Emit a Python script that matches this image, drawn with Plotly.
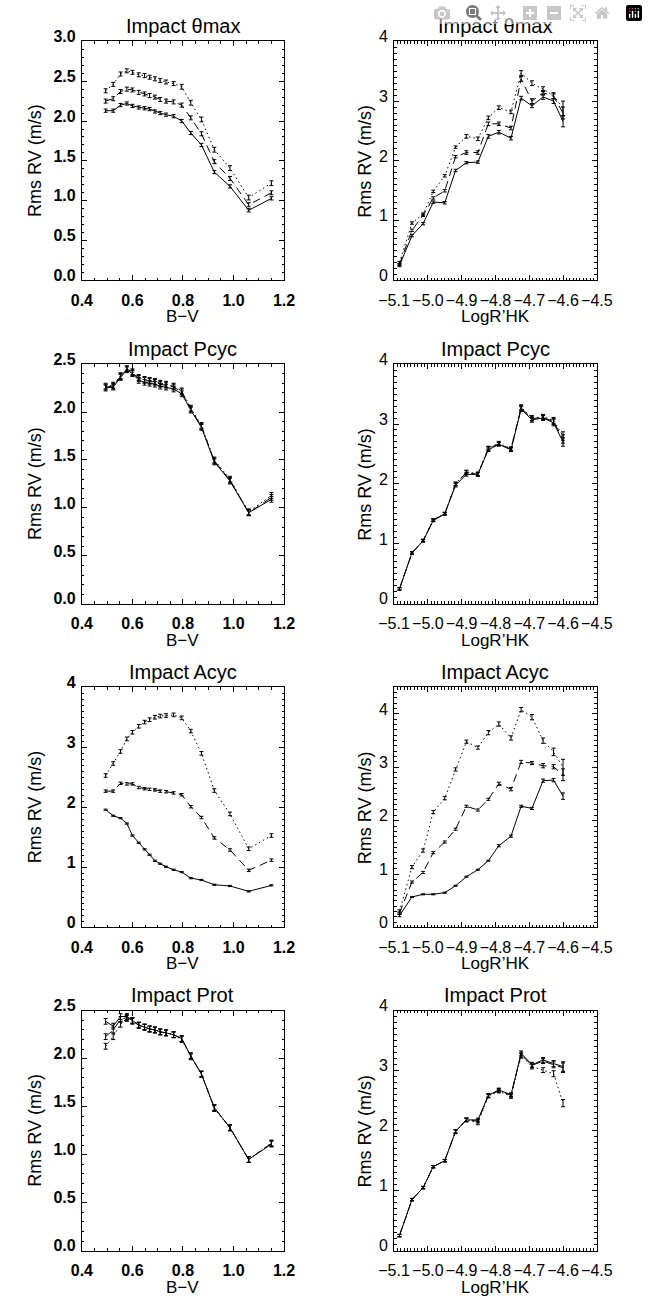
import plotly.graph_objects as go

W, H = 648, 1300

# ---------------- data ----------------
BV = [0.494, 0.524, 0.553, 0.578, 0.600, 0.625, 0.648, 0.668, 0.689, 0.710,
      0.733, 0.763, 0.795, 0.831, 0.873, 0.924, 0.986, 1.060, 1.150]
LOGRHK = [-5.084, -5.047, -5.014, -4.984, -4.950, -4.918, -4.886, -4.852,
          -4.821, -4.790, -4.754, -4.724, -4.692, -4.659, -4.628, -4.600]

BV_TICKS = [0.4, 0.6, 0.8, 1.0, 1.2]
LOGRHK_TICKS = [-5.1, -5.0, -4.9, -4.8, -4.7, -4.6, -4.5]

# Impact theta max  (B-V)
THMAX_BV_A = [2.13, 2.13, 2.20, 2.22, 2.19, 2.17, 2.16, 2.15, 2.12, 2.10,
              2.08, 2.06, 2.00, 1.85, 1.70, 1.36, 1.18, 0.88, 1.03]
THMAX_BV_B = [2.25, 2.28, 2.37, 2.40, 2.39, 2.36, 2.34, 2.32, 2.30, 2.27,
              2.25, 2.24, 2.20, 2.04, 1.84, 1.49, 1.28, 0.95, 1.10]
THMAX_BV_C = [2.38, 2.46, 2.59, 2.63, 2.61, 2.58, 2.57, 2.55, 2.53, 2.51,
              2.49, 2.47, 2.43, 2.23, 2.02, 1.64, 1.41, 1.04, 1.22]
THMAX_BV_ERR_A = [0.02, 0.02, 0.02, 0.02, 0.02, 0.02, 0.02, 0.02, 0.02, 0.02,
                  0.02, 0.02, 0.02, 0.02, 0.02, 0.02, 0.02, 0.02, 0.02]
THMAX_BV_ERR_B = [0.025, 0.025, 0.025, 0.025, 0.025, 0.025, 0.025, 0.025, 0.025, 0.025,
                  0.025, 0.025, 0.025, 0.025, 0.025, 0.025, 0.025, 0.025, 0.025]
THMAX_BV_ERR_C = [0.025, 0.025, 0.025, 0.025, 0.025, 0.025, 0.025, 0.025, 0.025, 0.025,
                  0.025, 0.025, 0.03, 0.03, 0.03, 0.03, 0.03, 0.03, 0.03]

# Impact theta max  (LogR'HK)
THMAX_RHK_A = [0.25, 0.75, 0.95, 1.31, 1.30, 1.84, 1.97, 1.98, 2.41, 2.48,
               2.38, 3.05, 2.92, 3.07, 3.00, 2.66]
THMAX_RHK_B = [0.27, 0.84, 1.09, 1.38, 1.50, 2.07, 2.14, 2.14, 2.62, 2.62,
               2.55, 3.37, 3.00, 3.14, 3.08, 2.80]
THMAX_RHK_C = [0.30, 0.96, 1.11, 1.49, 1.75, 2.23, 2.41, 2.37, 2.72, 2.89,
               2.82, 3.47, 3.30, 3.20, 3.09, 2.88]
THMAX_RHK_ERR_A = [0.02, 0.02, 0.02, 0.02, 0.02, 0.02, 0.02, 0.02, 0.03, 0.03,
                   0.03, 0.03, 0.03, 0.04, 0.04, 0.09]
THMAX_RHK_ERR_B = [0.02, 0.02, 0.02, 0.02, 0.02, 0.02, 0.03, 0.03, 0.03, 0.03,
                   0.03, 0.04, 0.04, 0.04, 0.04, 0.10]
THMAX_RHK_ERR_C = [0.02, 0.02, 0.02, 0.02, 0.02, 0.02, 0.03, 0.03, 0.03, 0.03,
                   0.03, 0.04, 0.04, 0.04, 0.05, 0.12]

# Impact Pcyc (B-V)
PCYC_BV_A = [2.25, 2.26, 2.36, 2.44, 2.40, 2.33, 2.31, 2.30, 2.29, 2.27,
             2.26, 2.24, 2.19, 2.02, 1.84, 1.48, 1.28, 0.95, 1.09]
PCYC_BV_B = [2.26, 2.27, 2.37, 2.45, 2.41, 2.35, 2.33, 2.32, 2.31, 2.29,
             2.28, 2.26, 2.21, 2.03, 1.85, 1.49, 1.29, 0.95, 1.11]
PCYC_BV_C = [2.27, 2.28, 2.38, 2.45, 2.42, 2.36, 2.34, 2.33, 2.32, 2.30,
             2.29, 2.27, 2.22, 2.04, 1.86, 1.50, 1.30, 0.96, 1.13]
PCYC_BV_ERR = [0.03, 0.03, 0.03, 0.03, 0.03, 0.03, 0.03, 0.03, 0.03, 0.03,
               0.03, 0.03, 0.03, 0.03, 0.03, 0.03, 0.03, 0.03, 0.03]

# Impact Pcyc (LogR'HK)
PCYC_RHK_A = [0.25, 0.85, 1.05, 1.39, 1.50, 1.98, 2.16, 2.16, 2.57, 2.66,
              2.57, 3.25, 3.07, 3.10, 3.02, 2.70]
PCYC_RHK_B = [0.25, 0.85, 1.05, 1.40, 1.50, 2.00, 2.19, 2.16, 2.59, 2.67,
              2.58, 3.27, 3.09, 3.11, 3.04, 2.75]
PCYC_RHK_C = [0.25, 0.85, 1.06, 1.40, 1.51, 2.00, 2.20, 2.17, 2.60, 2.68,
              2.59, 3.28, 3.10, 3.12, 3.06, 2.80]
PCYC_RHK_ERR = [0.02, 0.02, 0.02, 0.02, 0.02, 0.03, 0.03, 0.03, 0.03, 0.03,
                0.03, 0.04, 0.04, 0.04, 0.05, 0.07]

# Impact Acyc (B-V)
ACYC_BV_A = [1.96, 1.86, 1.82, 1.73, 1.53, 1.41, 1.30, 1.21, 1.11, 1.06,
             1.01, 0.96, 0.92, 0.82, 0.79, 0.71, 0.69, 0.60, 0.70]
ACYC_BV_B = [2.27, 2.27, 2.40, 2.39, 2.39, 2.33, 2.31, 2.30, 2.29, 2.27,
             2.26, 2.24, 2.21, 2.01, 1.83, 1.49, 1.29, 0.95, 1.12]
ACYC_BV_C = [2.53, 2.73, 2.93, 3.14, 3.25, 3.35, 3.42, 3.46, 3.50, 3.52,
             3.53, 3.54, 3.49, 3.27, 2.90, 2.28, 1.89, 1.31, 1.53]
ACYC_BV_ERR_A = [0.01, 0.01, 0.01, 0.01, 0.01, 0.01, 0.01, 0.01, 0.01, 0.01,
                 0.01, 0.01, 0.01, 0.01, 0.01, 0.01, 0.01, 0.01, 0.01]
ACYC_BV_ERR_B = [0.02, 0.02, 0.02, 0.02, 0.02, 0.02, 0.02, 0.02, 0.02, 0.02,
                 0.02, 0.02, 0.02, 0.02, 0.02, 0.02, 0.02, 0.02, 0.02]
ACYC_BV_ERR_C = [0.03, 0.03, 0.03, 0.03, 0.03, 0.03, 0.03, 0.03, 0.03, 0.03,
                 0.03, 0.03, 0.03, 0.03, 0.03, 0.03, 0.03, 0.03, 0.03]

# Impact Acyc (LogR'HK)
ACYC_RHK_A = [0.22, 0.57, 0.62, 0.62, 0.65, 0.78, 0.95, 1.08, 1.25, 1.53,
              1.71, 2.27, 2.23, 2.75, 2.76, 2.46]
ACYC_RHK_B = [0.27, 0.85, 1.03, 1.40, 1.60, 1.84, 2.27, 2.20, 2.40, 2.69,
              2.59, 3.10, 3.08, 3.03, 3.01, 2.86]
ACYC_RHK_C = [0.30, 1.13, 1.44, 2.16, 2.42, 2.96, 3.48, 3.37, 3.65, 3.81,
              3.55, 4.08, 3.94, 3.50, 3.29, 3.00]
ACYC_RHK_ERR_A = [0.02, 0.01, 0.01, 0.01, 0.01, 0.01, 0.01, 0.01, 0.01, 0.02,
                  0.02, 0.02, 0.02, 0.03, 0.03, 0.06]
ACYC_RHK_ERR_B = [0.02, 0.02, 0.02, 0.02, 0.02, 0.02, 0.02, 0.02, 0.02, 0.03,
                  0.03, 0.03, 0.03, 0.04, 0.04, 0.11]
ACYC_RHK_ERR_C = [0.03, 0.03, 0.03, 0.03, 0.03, 0.03, 0.03, 0.03, 0.04, 0.04,
                  0.04, 0.04, 0.05, 0.05, 0.07, 0.15]

# Impact Prot (B-V)
PROT_BV_A = [2.39, 2.34, 2.44, 2.44, 2.40, 2.35, 2.33, 2.31, 2.30, 2.28,
             2.27, 2.25, 2.21, 2.03, 1.84, 1.49, 1.28, 0.95, 1.11]
PROT_BV_B = [2.23, 2.30, 2.41, 2.43, 2.40, 2.35, 2.33, 2.31, 2.30, 2.28,
             2.27, 2.25, 2.21, 2.03, 1.84, 1.49, 1.28, 0.95, 1.12]
PROT_BV_C = [2.13, 2.23, 2.36, 2.42, 2.39, 2.35, 2.33, 2.31, 2.30, 2.28,
             2.27, 2.25, 2.20, 2.02, 1.84, 1.48, 1.28, 0.95, 1.12]
PROT_BV_ERR = [0.03, 0.03, 0.03, 0.03, 0.03, 0.03, 0.03, 0.03, 0.03, 0.03,
               0.03, 0.03, 0.03, 0.03, 0.03, 0.03, 0.03, 0.03, 0.03]

# Impact Prot (LogR'HK)
PROT_RHK_A = [0.25, 0.85, 1.05, 1.40, 1.50, 1.99, 2.18, 2.18, 2.59, 2.68,
              2.60, 3.29, 3.10, 3.18, 3.12, 3.07]
PROT_RHK_B = [0.25, 0.85, 1.05, 1.40, 1.50, 1.99, 2.18, 2.16, 2.58, 2.67,
              2.59, 3.27, 3.09, 3.16, 3.10, 3.05]
PROT_RHK_C = [0.25, 0.85, 1.05, 1.40, 1.50, 1.98, 2.18, 2.13, 2.58, 2.66,
              2.57, 3.25, 3.07, 3.01, 2.95, 2.46]
PROT_RHK_ERR_A = [0.02, 0.02, 0.02, 0.02, 0.02, 0.03, 0.03, 0.03, 0.03, 0.03,
                  0.03, 0.04, 0.04, 0.04, 0.05, 0.08]
PROT_RHK_ERR_C = [0.02, 0.02, 0.02, 0.02, 0.02, 0.03, 0.03, 0.03, 0.03, 0.03,
                  0.03, 0.04, 0.04, 0.04, 0.05, 0.06]

TITLES = ["Impact \u03b8max", "Impact Pcyc", "Impact Acyc", "Impact Prot"]
XTITLE_L = "B\u2212V"
XTITLE_R = "LogR\u2019HK"
YTITLE = "Rms RV (m/s)"

# ---------------- layout geometry (pixels) ----------------
LEFT = (69.3, 282.0)
RIGHT = (397.7, 611.0)
ROWS = [(28.7, 271.0), (355.7, 598.7), (683.2, 926.5), (1011.0, 1254.0)]

FONT = "Liberation Sans, Arial, Helvetica, sans-serif"
DASHES = ["solid", "8px,5px", "1.5px,3px"]

panels = [
    # row, col, xvals, series, errors, yrange, ydtick, ytickformat
    (0, 0, BV, [THMAX_BV_A, THMAX_BV_B, THMAX_BV_C],
     [THMAX_BV_ERR_A, THMAX_BV_ERR_B, THMAX_BV_ERR_C], [0, 3.0], 0.5, ".1f"),
    (0, 1, LOGRHK, [THMAX_RHK_A, THMAX_RHK_B, THMAX_RHK_C],
     [THMAX_RHK_ERR_A, THMAX_RHK_ERR_B, THMAX_RHK_ERR_C], [0, 4.0], 1, "d"),
    (1, 0, BV, [PCYC_BV_A, PCYC_BV_B, PCYC_BV_C],
     [PCYC_BV_ERR, PCYC_BV_ERR, PCYC_BV_ERR], [0, 2.5], 0.5, ".1f"),
    (1, 1, LOGRHK, [PCYC_RHK_A, PCYC_RHK_B, PCYC_RHK_C],
     [PCYC_RHK_ERR, PCYC_RHK_ERR, PCYC_RHK_ERR], [0, 4.0], 1, "d"),
    (2, 0, BV, [ACYC_BV_A, ACYC_BV_B, ACYC_BV_C],
     [ACYC_BV_ERR_A, ACYC_BV_ERR_B, ACYC_BV_ERR_C], [0, 4.0], 1, "d"),
    (2, 1, LOGRHK, [ACYC_RHK_A, ACYC_RHK_B, ACYC_RHK_C],
     [ACYC_RHK_ERR_A, ACYC_RHK_ERR_B, ACYC_RHK_ERR_C], [0, 4.5], 1, "d"),
    (3, 0, BV, [PROT_BV_A, PROT_BV_B, PROT_BV_C],
     [PROT_BV_ERR, PROT_BV_ERR, PROT_BV_ERR], [0, 2.5], 0.5, ".1f"),
    (3, 1, LOGRHK, [PROT_RHK_A, PROT_RHK_B, PROT_RHK_C],
     [PROT_RHK_ERR_A, PROT_RHK_ERR_A, PROT_RHK_ERR_C], [0, 4.0], 1, "d"),
]

fig = go.Figure()
layout = dict(width=W, height=H, autosize=False,
              margin=dict(l=0, r=0, t=0, b=0),
              paper_bgcolor="white", plot_bgcolor="white",
              showlegend=False, font=dict(family=FONT, color="black"))
annotations = []

EPS = 1e-6
for i, (row, col, xv, series, errs, yr, ydt, yfmt) in enumerate(panels):
    n = i + 1
    xa = "xaxis" if n == 1 else f"xaxis{n}"
    ya = "yaxis" if n == 1 else f"yaxis{n}"
    xref = "x" if n == 1 else f"x{n}"
    yref = "y" if n == 1 else f"y{n}"
    xpx = LEFT if col == 0 else RIGHT
    ypx = ROWS[row]
    xdom = [xpx[0] / W, xpx[1] / W]
    ydom = [1 - ypx[1] / H, 1 - ypx[0] / H]

    left = col == 0
    tickfont = dict(family=FONT, size=16,
                    weight="bold" if left else "normal", color="black")
    common = dict(showline=True, linecolor="black", linewidth=1, mirror="ticks",
                  ticks="inside", ticklen=5, tickwidth=1, tickcolor="black",
                  showgrid=False, zeroline=False, tickfont=tickfont,
                  tickangle=0)
    if left:
        xaxis = dict(common, domain=xdom, anchor=yref,
                     range=[0.4 - EPS, 1.2 + EPS], tickmode="array",
                     tickvals=BV_TICKS, tickformat=".1f", ticklabelstandoff=5,
                     minor=dict(ticks="inside", ticklen=2.5, tickwidth=1,
                                tickcolor="black", dtick=0.05, tick0=0.4,
                                showgrid=False))
    else:
        xaxis = dict(common, domain=xdom, anchor=yref,
                     range=[-5.1 - EPS, -4.5 + EPS], tickmode="array",
                     tickvals=LOGRHK_TICKS, tickformat=".1f", ticklabelstandoff=5,
                     minor=dict(ticks="inside", ticklen=2.5, tickwidth=1,
                                tickcolor="black", dtick=0.01, tick0=-5.1,
                                showgrid=False))
    yaxis = dict(common, domain=ydom, anchor=xref,
                 range=[yr[0] - EPS, yr[1] + EPS], tick0=0, dtick=ydt,
                 tickformat=yfmt, ticklabelshift=-5, ticklabelstandoff=2,
                 minor=dict(ticks="inside", ticklen=2.5, tickwidth=1,
                            tickcolor="black", dtick=0.1, tick0=0,
                            showgrid=False))
    layout[xa] = xaxis
    layout[ya] = yaxis

    for k in range(3):
        fig.add_trace(go.Scatter(
            x=xv, y=series[k], mode="lines", xaxis=xref, yaxis=yref,
            line=dict(color="black", width=1, dash=DASHES[k]),
            error_y=dict(type="data", array=errs[k], visible=True,
                         color="black", thickness=1, width=2),
            hoverinfo="skip"))

    cx = (xpx[0] + xpx[1]) / 2 / W
    annotations.append(dict(text=TITLES[row], x=cx, y=1 - (ypx[0] - 15.5) / H,
                            xref="paper", yref="paper", showarrow=False,
                            xanchor="center", yanchor="middle",
                            font=dict(family=FONT, size=20, color="black")))
    annotations.append(dict(text=XTITLE_L if left else XTITLE_R, x=cx,
                            y=1 - (ypx[1] + 37) / H, xref="paper", yref="paper",
                            showarrow=False, xanchor="center", yanchor="middle",
                            font=dict(family=FONT, size=17, color="black")))
    annotations.append(dict(text=YTITLE, x=(20 if left else 367) / W,
                            y=1 - (ypx[0] + ypx[1]) / 2 / H, xref="paper",
                            yref="paper", showarrow=False, textangle=-90,
                            xanchor="center", yanchor="middle",
                            font=dict(family=FONT, size=18, color="black")))

layout["annotations"] = annotations
fig.update_layout(**layout)
fig.write_html("out.html",
               post_script="document.body.style.margin='0';"
                           "document.body.style.overflow='hidden';")
